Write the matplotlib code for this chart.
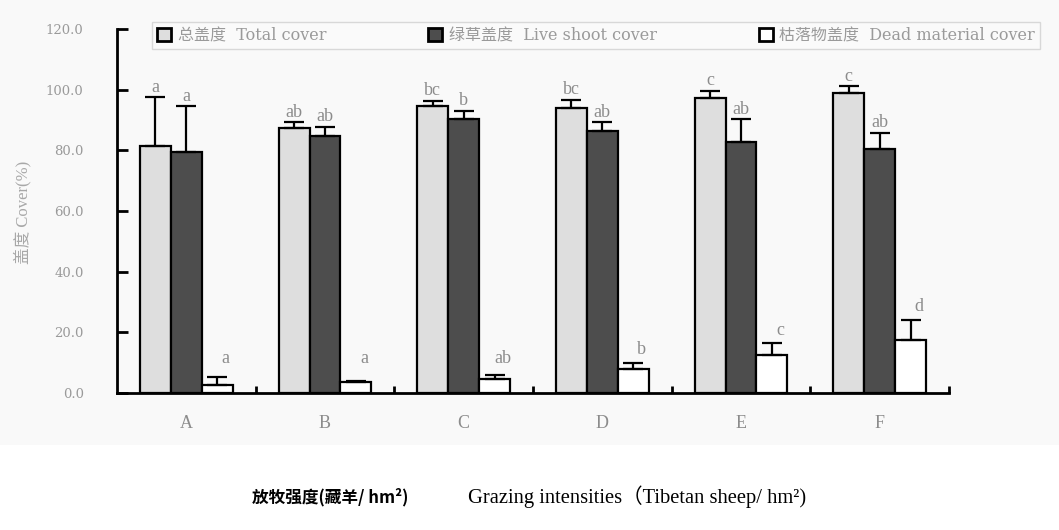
import matplotlib
matplotlib.use("Agg")
import matplotlib.pyplot as plt
import numpy as np
from matplotlib.patches import Patch, Rectangle

categories = ["A", "B", "C", "D", "E", "F"]
total_cover = [81.5, 87.3, 94.6, 94.1, 97.1, 98.8]
total_err = [16.0, 2.0, 1.7, 2.5, 2.5, 2.3]
live_cover = [79.3, 84.6, 90.2, 86.4, 82.7, 80.3]
live_err = [15.2, 3.2, 2.8, 2.8, 7.5, 5.5]
dead_cover = [2.6, 3.5, 4.5, 7.8, 12.6, 17.5]
dead_err = [2.7, 0.4, 1.4, 2.2, 3.8, 6.6]
total_sig = ["a", "ab", "bc", "bc", "c", "c"]
live_sig = ["a", "ab", "b", "ab", "ab", "ab"]
dead_sig = ["a", "a", "ab", "b", "c", "d"]
yticks = [0, 20, 40, 60, 80, 100, 120]
ytick_labels = ["0.0", "20.0", "40.0", "60.0", "80.0", "100.0", "120.0"]
series_names = ["总盖度  Total cover", "绿草盖度  Live shoot cover", "枯落物盖度  Dead material cover"]
series_colors = ["#dedede", "#4d4d4d", "#ffffff"]

W, H = 1059, 530
fig = plt.figure(figsize=(W / 100, H / 100), dpi=100)
fig.patch.set_facecolor("white")
# scanned background region
fig.patches.append(Rectangle((0, 1 - 445 / H), 1, 445 / H, transform=fig.transFigure,
                             facecolor="#f9f9f9", edgecolor="none", zorder=-10))

ax = fig.add_axes([117 / W, 1 - 393 / H, (949 - 117) / W, (393 - 29) / H])
ax.set_facecolor("none")
ax.set_zorder(1)

serif = ["Liberation Serif", "DejaVu Serif"]
wide_serif = ["DejaVu Serif", "Noto Sans CJK SC"]
gray = "#8c8c8c"

x = np.arange(len(categories))
w = 0.223
data = [(total_cover, total_err, total_sig), (live_cover, live_err, live_sig), (dead_cover, dead_err, dead_sig)]
offsets = [-w, 0, w]
for k, ((vals, errs, sigs), off) in enumerate(zip(data, offsets)):
    ax.bar(x + off, vals, width=w, color=series_colors[k], edgecolor="black", linewidth=1.6, zorder=2)
    ax.errorbar(x + off, vals, yerr=[np.zeros(len(vals)), errs], fmt="none", ecolor="black",
                elinewidth=1.6, capsize=7, capthick=1.6, zorder=3)
    for xi, v, e, s in zip(x, vals, errs, sigs):
        ytxt = v + e + 0.5
        dx = 0.0
        if k == 2:
            ytxt = max(v + e + 1.5, 8.5)
            dx = 0.06
        ax.text(xi + off + dx, ytxt, s, ha="center", va="bottom", fontsize=13, color=gray,
                family=serif, zorder=4)

ax.set_xlim(-0.5, 5.5)
ax.set_ylim(0, 120)
ax.spines["top"].set_visible(False)
ax.spines["right"].set_visible(False)
ax.spines["left"].set_linewidth(2)
ax.spines["bottom"].set_linewidth(2)

ax.set_yticks(yticks)
ax.set_yticklabels(ytick_labels, family=["DejaVu Serif"], fontsize=9.5, color="#9a9a9a")
ax.tick_params(axis="y", direction="in", length=8, width=2, pad=24)
ax.set_xticks(x)
ax.set_xticklabels(categories, family=serif, fontsize=13, color=gray)
ax.tick_params(axis="x", which="major", length=0, pad=16)
ax.set_xticks(np.arange(0.5, 6.0, 1.0), minor=True)
ax.tick_params(axis="x", which="minor", direction="in", length=5, width=2)

fig.text(22 / W, 1 - 212 / H, "盖度 Cover(%)", rotation=90, ha="center", va="center",
         fontsize=12, color="#a8a8a8", family=["Liberation Serif", "Noto Sans CJK SC"])

handles = [Patch(facecolor=c, edgecolor="black", linewidth=2) for c in series_colors]
leg = fig.legend(handles, series_names, loc="lower left",
                 bbox_to_anchor=(152 / W, 1 - 49 / H, 888 / W, 24 / H), mode="expand",
                 ncol=3, frameon=True, handlelength=0.9, handleheight=0.9,
                 handletextpad=0.4, borderpad=0.3, borderaxespad=0.0,
                 prop={"family": wide_serif, "size": 11.5})
leg.get_frame().set_edgecolor("#d0d0d0")
leg.get_frame().set_linewidth(1.0)
leg.get_frame().set_facecolor("#fbfbfb")
leg.get_frame().set_boxstyle("square", pad=0.0)
for t in leg.get_texts():
    t.set_color("#9a9a9a")

fig.text(252 / W, 1 - 497 / H, "放牧强度(藏羊/ hm²)", ha="left", va="center", fontsize=12,
         fontweight="bold", family=["Noto Sans CJK SC", "DejaVu Sans"], color="black")
fig.text(468 / W, 1 - 497 / H, "Grazing intensities（Tibetan sheep/ hm²)", ha="left", va="center",
         fontsize=14.8, family=["Liberation Serif", "Noto Sans CJK SC"], color="black")

fig.savefig("out.png", dpi=100)
